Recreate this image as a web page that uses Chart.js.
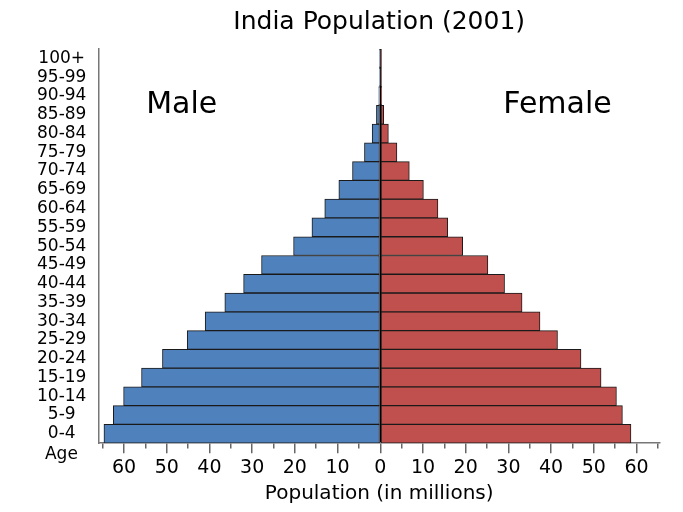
<!DOCTYPE html>
<html>
<head>
<meta charset="utf-8">
<title>India Population (2001)</title>
<script src="https://cdn.jsdelivr.net/npm/chart.js@4.4.1/dist/chart.umd.min.js"></script>
<style>
  html, body { margin: 0; padding: 0; background: #fff; }
  #wrap { width: 683px; height: 512px; position: relative; }
</style>
</head>
<body>
<div id="wrap"><canvas id="pyramid"></canvas></div>
<script>
// age groups, youngest first (axis is reversed so 0-4 ends up at the bottom)
const ageGroups = [
  '0-4', '5-9', '10-14', '15-19', '20-24', '25-29', '30-34',
  '35-39', '40-44', '45-49', '50-54', '55-59', '60-64', '65-69',
  '70-74', '75-79', '80-84', '85-89', '90-94', '95-99', '100+'
];

// millions
const maleValues = [
  64.7, 62.5, 60.1, 55.9, 51.0, 45.2, 41.0,
  36.4, 32.0, 27.8, 20.3, 16.0, 13.0, 9.7,
  6.5, 3.7, 1.9, 0.9, 0.35, 0.1, 0.05
];
const femaleValues = [
  58.7, 56.7, 55.3, 51.7, 47.0, 41.5, 37.4,
  33.2, 29.1, 25.2, 19.3, 15.8, 13.5, 10.1,
  6.8, 3.9, 1.9, 0.8, 0.35, 0.1, 0.05
];

const FONT = "'DejaVu Sans', 'Liberation Sans', sans-serif";

// Male / Female / Age captions, placed from the scales
const captions = {
  id: 'captions',
  afterDraw(chart) {
    const { ctx, scales: { x, y } } = chart;
    const midY = (y.getPixelForValue(17) + y.getPixelForValue(18)) / 2;
    ctx.save();
    ctx.fillStyle = '#000';
    ctx.textAlign = 'center';
    ctx.textBaseline = 'middle';
    ctx.font = '30px ' + FONT;
    ctx.fillText('Male', x.getPixelForValue(-46.5), midY);
    ctx.fillText('Female', x.getPixelForValue(41.5), midY);
    ctx.font = '17px ' + FONT;
    ctx.fillText('Age', y.right - 37, y.bottom + 11);
    ctx.restore();
  }
};

new Chart(document.getElementById('pyramid'), {
  type: 'bar',
  data: {
    labels: ageGroups,
    datasets: [
      {
        label: 'Male',
        data: maleValues.map(v => -v),
        backgroundColor: '#4f81bd',
        borderColor: '#1a1a1a',
        borderWidth: 1,
        borderSkipped: false,
        grouped: false,
        barPercentage: 1,
        categoryPercentage: 1
      },
      {
        label: 'Female',
        data: femaleValues,
        backgroundColor: '#c0504d',
        borderColor: '#1a1a1a',
        borderWidth: 1,
        borderSkipped: false,
        grouped: false,
        barPercentage: 1,
        categoryPercentage: 1
      }
    ]
  },
  options: {
    indexAxis: 'y',
    responsive: true,
    maintainAspectRatio: false,
    animation: false,
    layout: { padding: { left: 25, right: 23, top: 0, bottom: 6 } },
    plugins: {
      legend: { display: false },
      tooltip: { enabled: false },
      title: {
        display: true,
        fullSize: false,
        text: 'India Population (2001)',
        color: '#000',
        font: { family: FONT, size: 25, weight: 'normal' },
        padding: { top: 7, bottom: 12 }
      }
    },
    scales: {
      x: {
        min: -66,
        max: 65.5,
        border: { display: true, color: '#777', width: 1.5 },
        grid: {
          drawOnChartArea: true,
          color: c => (c.tick && c.tick.value === 0 ? '#000' : 'rgba(0,0,0,0)'),
          lineWidth: 1.5,
          tickLength: 10,
          tickColor: '#666',
          tickWidth: 1.5,
          tickBorderDash: c => (c.tick && c.tick.value % 10 === 0 ? [] : [5, 50])
        },
        ticks: {
          stepSize: 5,
          includeBounds: false,
          autoSkip: false,
          maxRotation: 0,
          padding: 3,
          color: '#000',
          font: { family: FONT, size: 19 },
          callback: v => (v % 10 === 0 ? String(Math.abs(v)) : '')
        },
        title: {
          display: true,
          text: 'Population (in millions)',
          color: '#000',
          font: { family: FONT, size: 20 },
          padding: { top: 0, bottom: 0 }
        }
      },
      y: {
        reverse: true,
        border: { display: true, color: '#777', width: 1.5 },
        grid: { display: false, drawTicks: false },
        ticks: {
          autoSkip: false,
          crossAlign: 'center',
          padding: 12,
          color: '#000',
          font: { family: FONT, size: 17 }
        }
      }
    }
  },
  plugins: [captions]
});
</script>
</body>
</html>
